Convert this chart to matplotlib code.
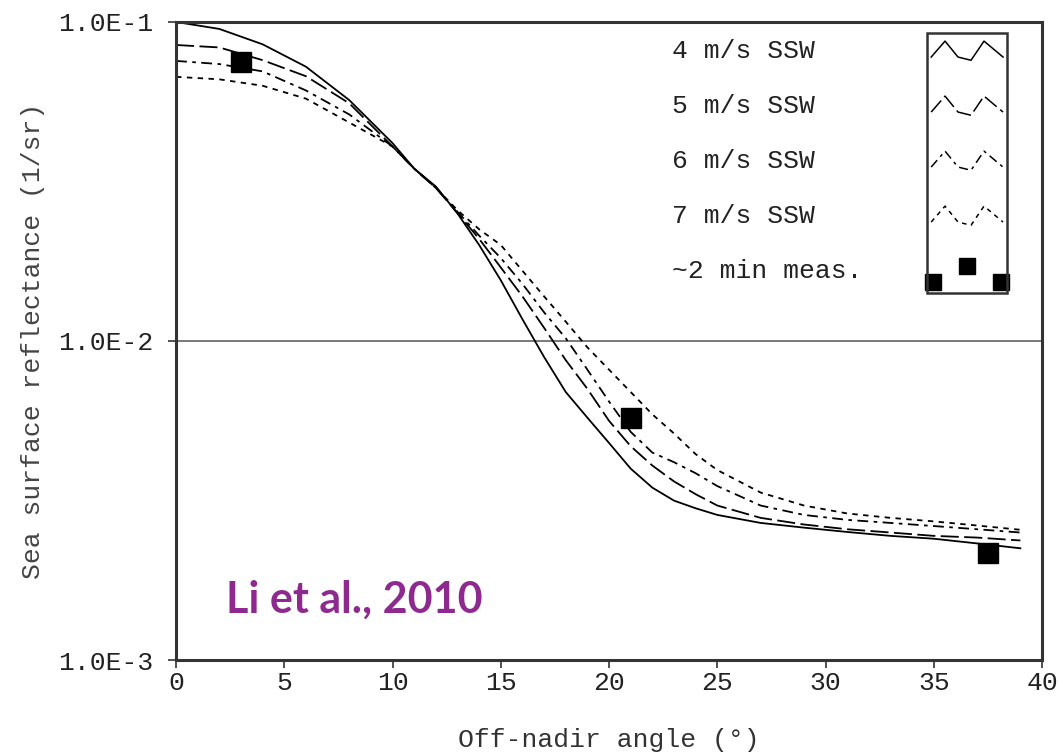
import numpy as np
import matplotlib
matplotlib.use("Agg")
import matplotlib.pyplot as plt
from matplotlib.ticker import FixedLocator, FuncFormatter
from matplotlib.patches import Rectangle

plt.rcParams['font.family'] = ['Liberation Mono', 'DejaVu Sans Mono']

# off-nadir angle (deg)
angle = [0, 2, 4, 6, 8, 10, 11, 12, 13, 14, 15, 16, 17, 18, 19, 20,
         21, 22, 23, 24, 25, 27, 29, 31, 33, 35, 37, 39]

# modelled sea surface reflectance (1/sr) for each wind speed
refl_4 = [0.1, 0.0951, 0.0851, 0.0724, 0.0569, 0.0417, 0.0347, 0.0305,
          0.0251, 0.0200, 0.0155, 0.0117, 0.00891, 0.00692, 0.00575,
          0.00479, 0.00398, 0.00347, 0.00316, 0.00299, 0.00285, 0.00269,
          0.00260, 0.00252, 0.00245, 0.00240, 0.00232, 0.00224]
refl_5 = [0.0847, 0.0832, 0.0759, 0.0676, 0.0556, 0.0407, 0.0347, 0.0302,
          0.0252, 0.0209, 0.0170, 0.0138, 0.0110, 0.00871, 0.00708,
          0.00562, 0.00468, 0.00407, 0.00363, 0.00331, 0.00305, 0.00279,
          0.00266, 0.00257, 0.00251, 0.00245, 0.00242, 0.00237]
refl_6 = [0.0755, 0.0738, 0.0700, 0.0610, 0.0513, 0.0407, 0.0347, 0.0302,
          0.0254, 0.0214, 0.0182, 0.0151, 0.0123, 0.0102, 0.00813,
          0.00646, 0.00519, 0.00447, 0.00417, 0.00385, 0.00351, 0.00305,
          0.00285, 0.00275, 0.00269, 0.00263, 0.00257, 0.00251]
refl_7 = [0.0673, 0.0661, 0.0631, 0.0575, 0.0484, 0.0407, 0.0347, 0.0302,
          0.0257, 0.0224, 0.0200, 0.0166, 0.0138, 0.0115, 0.00955,
          0.00813, 0.00692, 0.00589, 0.00513, 0.00442, 0.00394, 0.00335,
          0.00305, 0.00288, 0.00279, 0.00272, 0.00264, 0.00256]

# ~2 min measurements
meas_angle = [3.0, 21.0, 37.5]
meas_refl = [0.0750, 0.00574, 0.00216]

labels = ['4 m/s SSW', '5 m/s SSW', '6 m/s SSW', '7 m/s SSW', '~2 min meas.']
styles = ['-', (0, (10, 3)), (0, (6, 3, 2, 3)), (0, (3, 3))]

fig = plt.figure(figsize=(10.58, 7.55), dpi=100)
ax = fig.add_axes([0.1664, 0.1258, 0.8185, 0.8451])

for refl, ls in zip([refl_4, refl_5, refl_6, refl_7], styles):
    ax.plot(angle, refl, color='black', lw=1.3, ls=ls)
ax.plot(meas_angle, meas_refl, 's', color='black', ms=14, zorder=5)

ax.set_yscale('log')
ax.set_xlim(0, 40)
ax.set_ylim(1e-3, 1e-1)
ax.xaxis.set_major_locator(FixedLocator(np.arange(0, 41, 5)))
ax.yaxis.set_major_locator(FixedLocator([1e-3, 1e-2, 1e-1]))
ax.yaxis.set_minor_locator(FixedLocator([]))
ax.yaxis.set_major_formatter(FuncFormatter(lambda v, p: '1.0E%d' % round(np.log10(v))))
ax.tick_params(axis='both', direction='out', length=6, width=1.2, color='#333333',
               labelsize=19, labelcolor='#222222')
ax.tick_params(axis='x', pad=2)
ax.tick_params(axis='y', pad=10)
ax.axhline(1e-2, color='#555555', lw=1.1, zorder=1)

for side in ['top', 'bottom', 'left', 'right']:
    ax.spines[side].set_linewidth(2.2)
    ax.spines[side].set_color('#333333')

ax.set_xlabel('Off-nadir angle (°)', fontsize=19, color='#333333', labelpad=24)
ax.set_ylabel('Sea surface reflectance (1/sr)', fontsize=19, color='#444444', labelpad=10)

# legend: labels on the left, samples inside a framed box
for i, lab in enumerate(labels):
    ax.text(0.573, 0.955 - i * 0.0862, lab, transform=ax.transAxes,
            fontsize=19, color='#222222', va='center', ha='left')
ax.add_patch(Rectangle((0.867, 0.575), 0.093, 0.408, transform=ax.transAxes,
                       fill=False, ec='#333333', lw=1.8, zorder=6))
zx = np.array([0.872, 0.888, 0.903, 0.918, 0.933, 0.955])
zy = np.array([0.0, 1.0, 0.0, -0.2, 1.0, 0.0])
for i, ls in enumerate(styles):
    yc = 0.945 - i * 0.0862
    ax.plot(zx, yc + zy * 0.025, color='black', lw=1.1, ls=ls,
            transform=ax.transAxes, clip_on=False)
ax.plot([0.874, 0.9135, 0.953], [0.592, 0.617, 0.592], 's', color='black', ms=11,
        transform=ax.transAxes, clip_on=False)

ax.text(0.058, 0.095, 'Li et al., 2010', transform=ax.transAxes, fontsize=31,
        fontweight='bold', family='Lato', color='#8E2A8F', va='center', ha='left')

fig.savefig('out.png', dpi=100)
